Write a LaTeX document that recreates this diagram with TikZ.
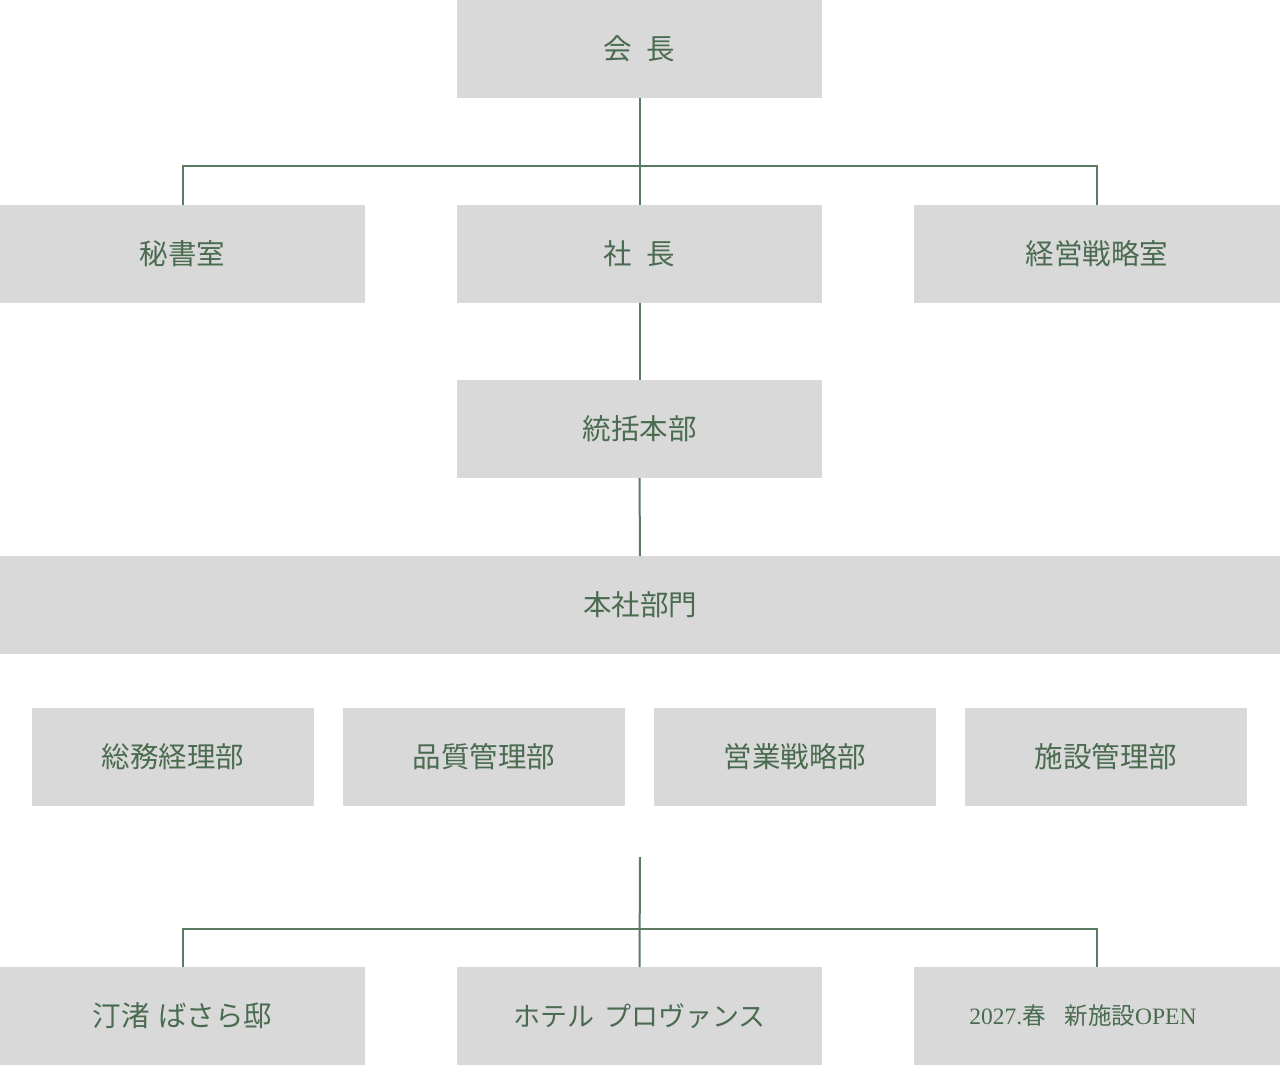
\documentclass[tikz,border=0pt]{standalone}
\usepackage{fontspec}
\newfontfamily\cjk{Noto Sans CJK JP}
\newfontfamily\lat{Liberation Serif}
\definecolor{boxgray}{RGB}{217,217,217}
\definecolor{txtgreen}{RGB}{74,107,80}
\definecolor{linegreen}{RGB}{90,122,98}
\newcommand{\gap}{\hspace{0.5em}}
\begin{document}
\begin{tikzpicture}[x=1pt,y=-1pt,
  orgbox/.style={fill=boxgray,draw=none,inner sep=0pt,text=txtgreen,font=\cjk\fontsize{28.5}{32}\selectfont},
  conn/.style={draw=linegreen,line width=2pt}]
\useasboundingbox (0,0) rectangle (1280,1068);
\newcommand{\obox}[7][0]{%
  \path[orgbox] (#3,#4) rectangle (#5,#6);
  \node[orgbox,fill=none,anchor=center] (#2) at ({(#3+#5)/2+#1},{(#4+#6)/2}) {#7};
  \coordinate (#2-n) at ({(#3+#5)/2},#4);
  \coordinate (#2-s) at ({(#3+#5)/2},#6);
}
\obox{kaicho}{457}{0}{822}{98}{会\gap 長}
\obox{hisho}{0}{205}{365}{303}{秘書室}
\obox{shacho}{457}{205}{822}{303}{社\gap 長}
\obox{keiei}{914}{205}{1280}{303}{経営戦略室}
\obox{tokatsu}{457}{380}{822}{478}{統括本部}
\obox{honsha}{0}{556}{1280}{654}{本社部門}
\obox{somu}{32}{708}{314}{806}{総務経理部}
\obox{hinshitsu}{343}{708}{625}{806}{品質管理部}
\obox{eigyo}{654}{708}{936}{806}{営業戦略部}
\obox{shisetsu}{965}{708}{1247}{806}{施設管理部}
\obox{migiwa}{0}{967}{365}{1065}{汀渚\hspace{0.3em}ばさら邸}
\obox{hotel}{457}{967}{822}{1065}{\fontsize{27}{30}\selectfont ホテル\hspace{0.35em}プロヴァンス}
\obox[-14]{newfac}{914}{967}{1280}{1065}{\fontsize{23.5}{26}\selectfont{\lat 2027.}春\hspace{0.8em}新施設{\lat OPEN}}
% connectors
\coordinate (j1) at (640,166);
\draw[conn] (kaicho-s) -- (shacho-n);
\draw[conn] (hisho-n) |- (j1) -| (keiei-n);
\draw[conn] (shacho-s) -- (tokatsu-n);
\draw[conn] (tokatsu-s) -- (honsha-n);
\coordinate (top2) at (640,857);
\coordinate (j2) at (640,929);
\draw[conn] (top2) -- (hotel-n);
\draw[conn] (migiwa-n) |- (j2) -| (newfac-n);
\end{tikzpicture}
\end{document}
